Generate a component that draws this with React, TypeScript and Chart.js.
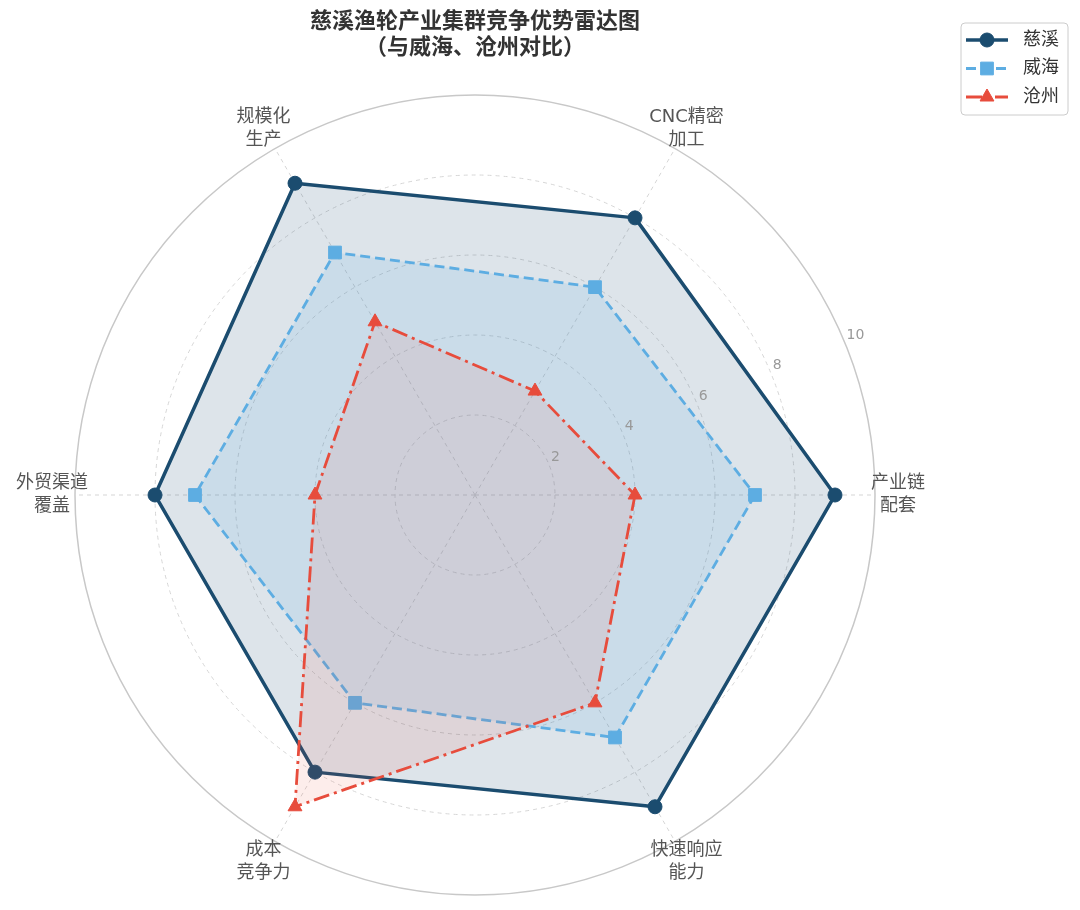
import React, { useEffect, useRef } from 'react';
import { Chart, registerables } from 'chart.js';

Chart.register(...registerables);

// ---- data ----
const categories = ['产业链\n配套', '快速响应\n能力', '成本\n竞争力', '外贸渠道\n覆盖', '规模化\n生产', 'CNC精密\n加工'];
const seriesNames = ['慈溪', '威海', '沧州'];
const cixiValues = [9, 9, 8, 8, 9, 8];
const weihaiValues = [7, 7, 6, 7, 7, 6];
const cangzhouValues = [4, 6, 9, 4, 5, 3];
const radialTicks = [2, 4, 6, 8, 10];
const titleLines = ['慈溪渔轮产业集群竞争优势雷达图', '（与威海、沧州对比）'];

const FONT = '"DejaVu Sans", "Noto Sans CJK SC", sans-serif';

const NAVY = '#1B4C6F';
const BLUE = '#5DADE2';
const RED = '#E74C3C';

function drawMarker(ctx: CanvasRenderingContext2D, style: string, x: number, y: number, r: number, color: string) {
  ctx.save();
  ctx.setLineDash([]);
  ctx.fillStyle = color;
  ctx.strokeStyle = color;
  ctx.lineWidth = 1;
  ctx.beginPath();
  if (style === 'circle') {
    ctx.arc(x, y, r, 0, Math.PI * 2);
  } else if (style === 'rect') {
    const s = Math.SQRT1_2 * r;
    ctx.rect(x - s, y - s, 2 * s, 2 * s);
  } else {
    let rad = 0;
    ctx.moveTo(x + Math.sin(rad) * r, y - Math.cos(rad) * r);
    rad += (2 * Math.PI) / 3;
    ctx.lineTo(x + Math.sin(rad) * r, y - Math.cos(rad) * r);
    rad += (2 * Math.PI) / 3;
    ctx.lineTo(x + Math.sin(rad) * r, y - Math.cos(rad) * r);
    ctx.closePath();
  }
  ctx.fill();
  ctx.stroke();
  ctx.restore();
}

const decorPlugin = {
  id: 'decor',
  afterDraw(chart: any) {
    const ctx: CanvasRenderingContext2D = chart.ctx;
    const scale = chart.scales.r;
    const xc = scale.xCenter;
    const yc = scale.yCenter;
    ctx.save();

    // radial tick labels at 22.5°
    ctx.font = `14px ${FONT}`;
    ctx.fillStyle = '#999999';
    ctx.textAlign = 'left';
    ctx.textBaseline = 'bottom';
    const a = (22.5 * Math.PI) / 180;
    radialTicks.forEach((v) => {
      const r = scale.getDistanceFromCenterForValue(v);
      ctx.fillText(String(v), xc + r * Math.cos(a) + 2, yc - r * Math.sin(a));
    });

    // category labels
    ctx.font = `18px ${FONT}`;
    ctx.fillStyle = '#555555';
    ctx.textAlign = 'center';
    ctx.textBaseline = 'middle';
    const rl = scale.getDistanceFromCenterForValue(10) + 23;
    (chart.data.labels as string[]).forEach((lab, i) => {
      const p = scale.getPointPosition(i, rl);
      const lines = String(lab).split('\n');
      lines.forEach((ln, k) => {
        ctx.fillText(ln, p.x, p.y + (k - (lines.length - 1) / 2) * 23);
      });
    });

    // title
    ctx.font = `bold 22px ${FONT}`;
    ctx.fillStyle = '#333333';
    titleLines.forEach((t, k) => ctx.fillText(t, xc, 22 + k * 26));

    // legend
    const lx = 961, ly = 23, lw = 107, lh = 92, rr = 4;
    ctx.beginPath();
    ctx.moveTo(lx + rr, ly);
    ctx.lineTo(lx + lw - rr, ly);
    ctx.arcTo(lx + lw, ly, lx + lw, ly + rr, rr);
    ctx.lineTo(lx + lw, ly + lh - rr);
    ctx.arcTo(lx + lw, ly + lh, lx + lw - rr, ly + lh, rr);
    ctx.lineTo(lx + rr, ly + lh);
    ctx.arcTo(lx, ly + lh, lx, ly + lh - rr, rr);
    ctx.lineTo(lx, ly + rr);
    ctx.arcTo(lx, ly, lx + rr, ly, rr);
    ctx.closePath();
    ctx.fillStyle = 'rgba(255,255,255,0.85)';
    ctx.fill();
    ctx.strokeStyle = '#cccccc';
    ctx.lineWidth = 1;
    ctx.stroke();

    chart.data.datasets.forEach((ds: any, i: number) => {
      const y = ly + 17 + i * 28.5;
      ctx.save();
      ctx.setLineDash(ds.borderDash || []);
      ctx.strokeStyle = ds.borderColor;
      ctx.lineWidth = ds.borderWidth;
      ctx.beginPath();
      ctx.moveTo(966, y);
      ctx.lineTo(1008, y);
      ctx.stroke();
      ctx.restore();
      drawMarker(ctx, ds.pointStyle, 987, y, ds.pointRadius, ds.borderColor);
      ctx.font = `18px ${FONT}`;
      ctx.fillStyle = '#333333';
      ctx.textAlign = 'left';
      ctx.textBaseline = 'middle';
      ctx.fillText(ds.label, 1023, y);
    });

    ctx.restore();
  },
};

export default function App() {
  const ref = useRef<HTMLCanvasElement>(null);

  useEffect(() => {
    if (!ref.current) return;
    const isOuter = (c: any) => c.tick && c.tick.value === 10;
    const chart = new Chart(ref.current, {
      type: 'radar',
      data: {
        labels: categories,
        datasets: [
          {
            label: seriesNames[0],
            data: cixiValues,
            borderColor: NAVY,
            backgroundColor: 'rgba(27,76,111,0.15)',
            borderWidth: 3.5,
            fill: true,
            pointStyle: 'circle',
            pointRadius: 7,
            pointBackgroundColor: NAVY,
            pointBorderColor: NAVY,
            pointBorderWidth: 1,
            borderJoinStyle: 'round',
            order: 3,
          },
          {
            label: seriesNames[1],
            data: weihaiValues,
            borderColor: BLUE,
            backgroundColor: 'rgba(93,173,226,0.15)',
            borderWidth: 2.8,
            borderDash: [10, 5],
            fill: true,
            pointStyle: 'rect',
            pointRadius: 9,
            pointBackgroundColor: BLUE,
            pointBorderColor: BLUE,
            pointBorderWidth: 1,
            borderJoinStyle: 'round',
            order: 2,
          },
          {
            label: seriesNames[2],
            data: cangzhouValues,
            borderColor: RED,
            backgroundColor: 'rgba(231,76,60,0.1)',
            borderWidth: 2.8,
            borderDash: [16, 5, 3, 5],
            fill: true,
            pointStyle: 'triangle',
            pointRadius: 8,
            pointBackgroundColor: RED,
            pointBorderColor: RED,
            pointBorderWidth: 1,
            borderJoinStyle: 'round',
            order: 1,
          },
        ] as any,
      },
      options: {
        responsive: false,
        animation: false,
        layout: { padding: { left: 75, top: 95, right: 205, bottom: 15 } },
        plugins: {
          legend: { display: false },
          title: { display: false },
          tooltip: { enabled: false },
        },
        elements: { line: { tension: 0 } },
        scales: {
          r: {
            min: 0,
            max: 10,
            startAngle: 90,
            ticks: { display: false, stepSize: 2 },
            pointLabels: { display: false },
            grid: {
              circular: true,
              color: (c: any) => (isOuter(c) ? '#c8c8c8' : '#d6d6d6'),
              lineWidth: (c: any) => (isOuter(c) ? 1.5 : 1),
            },
            border: { dash: (c: any) => (isOuter(c) ? [] : [4, 4]) } as any,
            angleLines: { color: '#d6d6d6', lineWidth: 1, borderDash: [4, 4] },
          },
        },
      } as any,
      plugins: [decorPlugin],
    });
    return () => chart.destroy();
  }, []);

  return (
    <div style={{ position: 'absolute', left: 0, top: 0, width: 1080, height: 910, background: '#ffffff' }}>
      <canvas ref={ref} width={1080} height={910} style={{ display: 'block', width: 1080, height: 910 }} />
    </div>
  );
}
